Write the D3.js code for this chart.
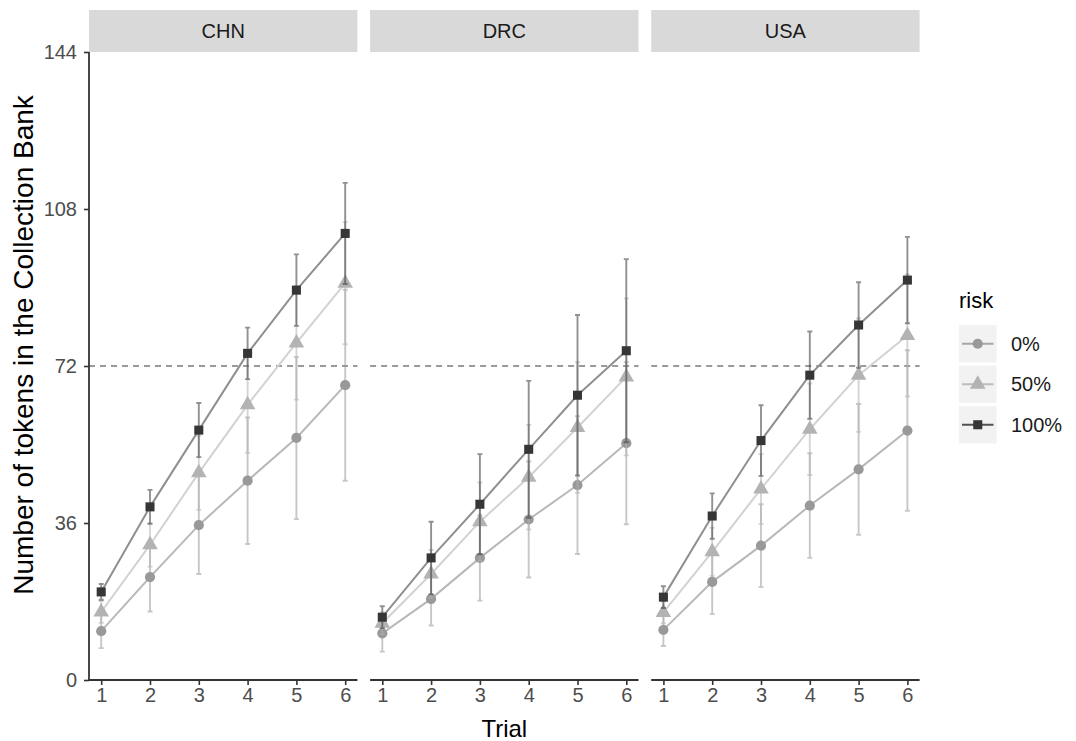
<!DOCTYPE html>
<html>
<head>
<meta charset="utf-8">
<script src="https://cdn.jsdelivr.net/npm/d3@7"></script>
<style>
  body { margin: 0; background: #fff; }
  text { font-family: "Liberation Sans", Arial, sans-serif; }
</style>
</head>
<body>
<div id="chart"></div>
<script>
// values
const trials = [1, 2, 3, 4, 5, 6];
const countries = ["CHN", "DRC", "USA"];
const risks = ["0%", "50%", "100%"];
const yTicks = [0, 36, 72, 108, 144];
const threshold = 72;

// means per country, per risk level
const chn0   = [11.2, 23.6, 35.5, 45.7, 55.5, 67.6];
const chn50  = [15.6, 31.0, 47.5, 63.1, 77.3, 91.0];
const chn100 = [20.2, 39.7, 57.3, 74.9, 89.4, 102.4];
const drc0   = [10.7, 18.6, 28.0, 36.8, 44.7, 54.3];
const drc50  = [13.0, 24.3, 36.3, 46.5, 57.9, 69.5];
const drc100 = [14.4, 28.0, 40.3, 52.9, 65.3, 75.5];
const usa0   = [11.5, 22.5, 30.8, 40.0, 48.3, 57.2];
const usa50  = [15.5, 29.4, 43.8, 57.5, 69.9, 79.0];
const usa100 = [19.0, 37.6, 54.9, 69.9, 81.4, 91.7];

// error bar half widths
const chn0Err   = [3.9, 7.9, 11.2, 14.5, 18.6, 21.9];
const chn50Err  = [2.5, 5.0, 8.5, 11.0, 13.0, 14.0];
const chn100Err = [1.8, 3.9, 6.2, 5.9, 8.2, 11.6];
const drc0Err   = [4.2, 6.1, 9.8, 13.3, 15.8, 18.6];
const drc50Err  = [2.5, 5.5, 9.0, 12.0, 15.0, 18.0];
const drc100Err = [2.5, 8.3, 11.5, 15.7, 18.4, 21.0];
const usa0Err   = [3.7, 7.4, 9.5, 12.0, 15.0, 18.4];
const usa50Err  = [2.5, 5.5, 8.0, 10.5, 13.0, 14.0];
const usa100Err = [2.5, 5.2, 8.1, 10.0, 9.8, 9.9];

const means = {
  CHN: [chn0, chn50, chn100],
  DRC: [drc0, drc50, drc100],
  USA: [usa0, usa50, usa100]
};
const errs = {
  CHN: [chn0Err, chn50Err, chn100Err],
  DRC: [drc0Err, drc50Err, drc100Err],
  USA: [usa0Err, usa50Err, usa100Err]
};

const W = 1076, H = 741;
const panelLeft = 89, panelW = 268.4, gap = 12.7;
const plotTop = 52, plotBottom = 680;
const stripTop = 10;

const markColor = ["#999999", "#b3b3b3", "#363636"];
const lineColor = ["#b8b8b8", "#d2d2d2", "#8f8f8f"];
const shapes = [d3.symbolCircle, d3.symbolTriangle, d3.symbolSquare];
const sizes = [82, 105, 82];

const svg = d3.select("#chart").append("svg")
  .attr("width", W)
  .attr("height", H);

const y = d3.scaleLinear().domain([0, 144]).range([plotBottom, plotTop]);

countries.forEach((c, ci) => {
  const x0 = panelLeft + ci * (panelW + gap);
  const x = d3.scaleLinear().domain([0.75, 6.25]).range([x0, x0 + panelW]);
  const g = svg.append("g");

  // strip
  g.append("rect")
    .attr("x", x0).attr("y", stripTop)
    .attr("width", panelW).attr("height", plotTop - stripTop)
    .attr("fill", "#d9d9d9");
  g.append("text")
    .attr("x", x0 + panelW / 2).attr("y", (stripTop + plotTop) / 2)
    .attr("dy", "0.36em")
    .attr("text-anchor", "middle")
    .attr("font-size", 20)
    .attr("fill", "#1a1a1a")
    .text(c);

  // threshold line
  g.append("line")
    .attr("x1", x0).attr("x2", x0 + panelW)
    .attr("y1", y(threshold)).attr("y2", y(threshold))
    .attr("stroke", "#9a9a9a")
    .attr("stroke-width", 1.8)
    .attr("stroke-dasharray", "6,5");

  // x axis
  const xa = g.append("g")
    .attr("transform", `translate(0,${plotBottom})`)
    .call(d3.axisBottom(x).tickValues(trials).tickFormat(d3.format("d"))
      .tickSize(5).tickPadding(3));
  xa.attr("font-size", 20).attr("font-family", "Liberation Sans, Arial, sans-serif");
  xa.select(".domain").attr("stroke", "#333").attr("stroke-width", 1.8)
    .attr("d", `M${x0},0H${x0 + panelW}`);
  xa.selectAll(".tick line").attr("stroke", "#333").attr("stroke-width", 1.6);
  xa.selectAll(".tick text").attr("fill", "#4d4d4d");

  // y axis on first panel only
  if (ci === 0) {
    const ya = g.append("g")
      .attr("transform", `translate(${x0},0)`)
      .call(d3.axisLeft(y).tickValues(yTicks).tickSize(5).tickPadding(7));
    ya.attr("font-size", 20).attr("font-family", "Liberation Sans, Arial, sans-serif");
    ya.select(".domain").attr("stroke", "#333").attr("stroke-width", 1.8)
      .attr("d", `M0,${plotBottom}V${plotTop}`);
    ya.selectAll(".tick line").attr("stroke", "#333").attr("stroke-width", 1.6);
    ya.selectAll(".tick text").attr("fill", "#4d4d4d");
  }

  risks.forEach((r, ri) => {
    const pts = trials.map((t, i) => ({ t: t, v: means[c][ri][i], e: errs[c][ri][i] }));

    // error bars
    const eb = g.append("g")
      .attr("stroke", markColor[ri])
      .attr("stroke-opacity", 0.55)
      .attr("stroke-width", 1.9);
    eb.selectAll("path").data(pts).enter().append("path")
      .attr("fill", "none")
      .attr("d", d => {
        const cx = x(d.t), y1 = y(d.v - d.e), y2 = y(d.v + d.e);
        return `M${cx - 2.5},${y1}H${cx + 2.5}M${cx},${y1}V${y2}M${cx - 2.5},${y2}H${cx + 2.5}`;
      });

    // line
    g.append("path")
      .datum(pts)
      .attr("fill", "none")
      .attr("stroke", lineColor[ri])
      .attr("stroke-width", 2)
      .attr("d", d3.line().x(d => x(d.t)).y(d => y(d.v)));

    // points
    g.selectAll(null).data(pts).enter().append("path")
      .attr("transform", d => `translate(${x(d.t)},${y(d.v)})`)
      .attr("d", d3.symbol().type(shapes[ri]).size(sizes[ri]))
      .attr("fill", markColor[ri]);
  });
});

// axis titles
svg.append("text")
  .attr("x", panelLeft + (3 * panelW + 2 * gap) / 2)
  .attr("y", 737)
  .attr("text-anchor", "middle")
  .attr("font-size", 24)
  .attr("fill", "#000")
  .text("Trial");

svg.append("text")
  .attr("transform", `translate(33,${(stripTop + plotBottom) / 2}) rotate(-90)`)
  .attr("text-anchor", "middle")
  .attr("font-size", 28)
  .attr("fill", "#000")
  .text("Number of tokens in the Collection Bank");

// legend
const lg = svg.append("g").attr("transform", "translate(959,0)");
lg.append("text")
  .attr("x", 0).attr("y", 308)
  .attr("font-size", 22)
  .attr("fill", "#000")
  .text("risk");

risks.forEach((r, ri) => {
  const ky = 325 + ri * 40.5;
  lg.append("rect")
    .attr("x", 0).attr("y", ky)
    .attr("width", 37.5).attr("height", 37.5)
    .attr("fill", "#f2f2f2");
  lg.append("line")
    .attr("x1", 3).attr("x2", 34.5)
    .attr("y1", ky + 18.75).attr("y2", ky + 18.75)
    .attr("stroke", markColor[ri])
    .attr("stroke-opacity", 0.85)
    .attr("stroke-width", 2);
  lg.append("path")
    .attr("transform", `translate(18.75,${ky + 18.75})`)
    .attr("d", d3.symbol().type(shapes[ri]).size(sizes[ri]))
    .attr("fill", markColor[ri]);
  lg.append("text")
    .attr("x", 52).attr("y", ky + 18.75)
    .attr("dy", "0.36em")
    .attr("font-size", 20)
    .attr("fill", "#1a1a1a")
    .text(r);
});
</script>
</body>
</html>
